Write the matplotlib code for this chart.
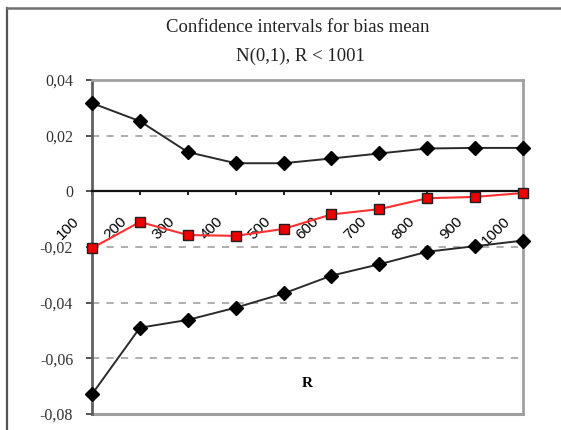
import matplotlib
matplotlib.use("Agg")
import matplotlib.pyplot as plt
import numpy as np
from matplotlib.lines import Line2D
from matplotlib.transforms import ScaledTranslation

# R values on the category axis
r_values = [100, 200, 300, 400, 500, 600, 700, 800, 900, 1000]

# upper / lower confidence bounds and the bias mean
upper = [0.0317, 0.0252, 0.0141, 0.0101, 0.0101, 0.0118, 0.0136, 0.0154, 0.0156, 0.0156]
mean = [-0.0204, -0.0110, -0.0157, -0.0160, -0.0135, -0.0083, -0.0064, -0.0025, -0.0020, -0.0006]
lower = [-0.0729, -0.0490, -0.0462, -0.0418, -0.0367, -0.0303, -0.0262, -0.0217, -0.0197, -0.0177]

y_ticks = [0.04, 0.02, 0.0, -0.02, -0.04, -0.06, -0.08]
y_labels = ["0,04", "0,02", "0", "-0,02", "-0,04", "-0,06", "-0,08"]

W, H = 561, 430
fig = plt.figure(figsize=(W / 100, H / 100), dpi=100)
fig.patch.set_facecolor("white")

# plot area in pixel terms
x0, x1, ytop, ybot = 92, 523, 80, 414
ax = fig.add_axes([x0 / W, 1 - ybot / H, (x1 - x0) / W, (ybot - ytop) / H])

x = np.arange(len(r_values))
ax.set_xlim(0, len(r_values) - 1)
ax.set_ylim(-0.08, 0.04)

# dashed gridlines
for g in [0.02, -0.02, -0.04, -0.06]:
    ax.axhline(g, color="#a8a8a8", lw=1.3, ls=(0, (4, 4)), zorder=1)

ax.plot(x, upper, color="#2a2a2a", lw=1.4, marker="D", ms=6.8,
        mfc="black", mec="black", zorder=3, clip_on=False)
ax.plot(x, lower, color="#2a2a2a", lw=1.4, marker="D", ms=6.8,
        mfc="black", mec="black", zorder=3, clip_on=False)
ax.plot(x, mean, color="#ff3030", lw=1.5, marker="s", ms=7,
        mfc="#ee0000", mec="#202020", mew=1.0, zorder=4, clip_on=False)

# plot area border
for side in ["top", "right"]:
    ax.spines[side].set_color("#a0a0a0")
    ax.spines[side].set_linewidth(2)
ax.spines["left"].set_color("#606060")
ax.spines["left"].set_linewidth(2)
ax.spines["bottom"].set_position(("data", 0))
ax.spines["bottom"].set_color("#111111")
ax.spines["bottom"].set_linewidth(1.6)
ax.plot([0, 1], [0, 0], transform=ax.transAxes, color="#a0a0a0", lw=2.2,
        clip_on=False, zorder=0)

ax.set_yticks(y_ticks)
ax.set_yticklabels(y_labels, family="Liberation Serif", fontsize=11.5, color="#333333")
ax.tick_params(axis="y", direction="out", length=4, width=1.3, color="#444444", pad=9.5)

ax.set_xticks(x)
ax.set_xticklabels([str(r) for r in r_values], family="Liberation Sans",
                   fontsize=11, rotation=45, rotation_mode="anchor",
                   ha="right", va="center")
ax.tick_params(axis="x", direction="out", length=3, width=1.3, color="#111111", pad=17)
shift = ScaledTranslation(-0.15, 0, fig.dpi_scale_trans)
for lab in ax.get_xticklabels():
    lab.set_transform(lab.get_transform() + shift)

ax.text(0.5, 0.09, "R", transform=ax.transAxes, ha="center", va="center",
        family="Liberation Serif", fontsize=11, fontweight="bold")

fig.text(298 / W, 1 - 27 / H, "Confidence intervals for bias mean",
         ha="center", va="center", family="Liberation Serif", fontsize=13.5,
         color="#222222")
fig.text(300 / W, 1 - 56 / H, "N(0,1), R < 1001",
         ha="center", va="center", family="Liberation Serif", fontsize=13.5,
         color="#222222")

# outer chart frame
fig.add_artist(Line2D([6.5 / W, 6.5 / W], [0, 1 - 7.5 / H], color="#555555", lw=1.6))
fig.add_artist(Line2D([6.5 / W, 1], [1 - 7.5 / H, 1 - 7.5 / H], color="#707070", lw=1.8))

fig.savefig("out.png", dpi=100)
